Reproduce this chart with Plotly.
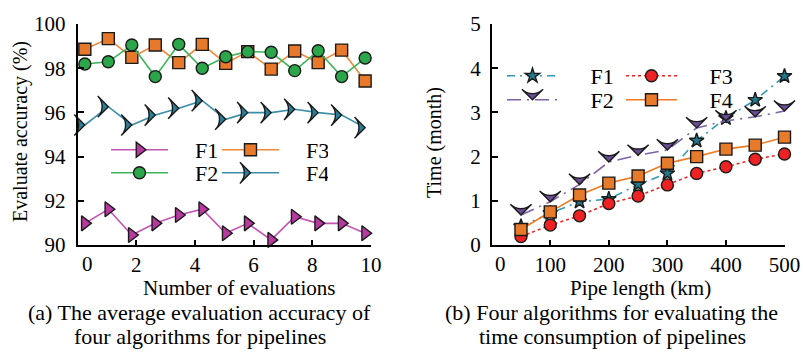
import plotly.graph_objects as go

# ---- Left panel data: accuracy vs number of evaluations ----
eval_x = [0.25, 1.05, 1.85, 2.65, 3.45, 4.25, 5.05, 5.8, 6.6, 7.4, 8.2, 9.0, 9.8]
acc_f1 = [90.98, 91.62, 90.45, 90.98, 91.36, 91.62, 90.53, 90.98, 90.23, 91.28, 90.98, 90.98, 90.53]
acc_f2 = [98.19, 98.29, 99.05, 97.62, 99.08, 98.00, 98.52, 98.75, 98.72, 97.89, 98.79, 97.62, 98.46]
acc_f3 = [98.86, 99.34, 98.49, 99.05, 98.25, 99.08, 98.22, 98.75, 97.96, 98.78, 98.25, 98.82, 97.42]
acc_f4 = [95.43, 96.26, 95.43, 95.88, 96.19, 96.53, 95.69, 95.99, 95.99, 96.14, 95.99, 95.88, 95.31]

# ---- Right panel data: time vs pipe length ----
pipe_len = [50, 100, 150, 200, 250, 300, 350, 400, 450, 500]
time_f1 = [0.42, 0.72, 0.98, 1.04, 1.37, 1.62, 2.36, 2.87, 3.28, 3.82]
time_f2 = [0.68, 0.98, 1.37, 1.88, 2.03, 2.15, 2.65, 2.81, 2.90, 3.03]
time_f3 = [0.19, 0.45, 0.66, 0.94, 1.11, 1.36, 1.62, 1.77, 1.94, 2.06]
time_f4 = [0.35, 0.75, 1.13, 1.40, 1.56, 1.85, 2.00, 2.17, 2.26, 2.44]

left_ticks = [2, 4, 6, 8, 10]
right_ticks = [100, 200, 300, 400, 500]

FONT = "Liberation Serif"
FS = 21       # tick labels
FSH = 22      # captions / legend
FST = 21      # x axis titles
FSV = 20      # vertical axis titles
W, H = 803, 352
EDGE = "#1a1a1a"
NB = "\u00a0"

fig = go.Figure()

def add(x, y, name, color, fill, symbol, size, dash, xa, ya, legend, angle=0, lw=1.6):
    fig.add_trace(go.Scatter(
        x=x, y=y, name=name, mode="lines+markers",
        line=dict(color=color, width=lw, dash=dash),
        marker=dict(symbol=symbol, size=size, color=fill, angle=angle,
                    line=dict(color=EDGE, width=1.4)),
        xaxis=xa, yaxis=ya, legend=legend, cliponaxis=False))

# left panel
pl = NB * 4
add(eval_x, acc_f1, pl + "F1", "#c254b4", "#b8399f", "triangle-right", 13, "solid", "x", "y", "legend")
add(eval_x, acc_f3, pl + "F3", "#f0883a", "#e8782a", "square", 12, "solid", "x", "y", "legend")
add(eval_x, acc_f2, pl + "F2", "#3cb55a", "#2ca64a", "circle", 12, "solid", "x", "y", "legend2")
add(eval_x, acc_f4, pl + "F4", "#3a8fa8", "#2a8098", "arrow-wide", 15, "solid", "x", "y", "legend2", angle=90)

# right panel
pr = NB * 5
add(pipe_len, time_f1, pr + "F1", "#3399b0", "#23788c", "star", 11, "8px,5px,2px,5px", "x2", "y2", "legend3")
add(pipe_len, time_f3, pr + "F3", "#ee2222", "#ee2222", "circle", 12, "dot", "x2", "y2", "legend3")
add(pipe_len, time_f2, pr + "F2", "#7d63a8", "#6a4f98", "arrow-wide", 15, "14px,6px,2px,6px", "x2", "y2", "legend4", angle=180)
add(pipe_len, time_f4, pr + "F4", "#f07a20", "#e87b2a", "square", 12, "solid", "x2", "y2", "legend4")

axis_common = dict(showline=True, linecolor="black", linewidth=1.5, showgrid=False,
                   zeroline=False, ticks="inside", tickcolor="black", tickwidth=1.5,
                   tickfont=dict(family=FONT, size=FS, color="black"))

def leg(xpx, ypx, ew, iw):
    return dict(orientation="h", x=xpx / W, y=1 - ypx / H, xanchor="left", yanchor="middle",
                entrywidth=ew, itemwidth=iw, bgcolor="rgba(0,0,0,0)",
                font=dict(family=FONT, size=FSH, color="black"))

ydom = [1 - 245 / H, 1 - 24 / H]
fig.update_layout(
    width=W, height=H, margin=dict(l=0, r=0, t=0, b=0, autoexpand=False),
    paper_bgcolor="white", plot_bgcolor="white",
    font=dict(family=FONT, size=FS, color="black"),
    xaxis=dict(domain=[77.5 / W, 371 / W], range=[0, 10], tickvals=left_ticks, ticklen=5,
               anchor="y", **axis_common),
    yaxis=dict(domain=ydom, range=[90, 100], dtick=2, ticklen=7, anchor="x",
               ticklabelstandoff=6, **axis_common),
    xaxis2=dict(domain=[491.7 / W, 784.5 / W], range=[0, 500], tickvals=right_ticks, ticklen=5,
                anchor="y2", **axis_common),
    yaxis2=dict(domain=ydom, range=[0, 5], dtick=1, ticklen=7, anchor="x2",
                ticklabelstandoff=5, **axis_common),
    legend=leg(106, 150, 39, 57),
    legend2=leg(106, 173, 39, 57),
    legend3=leg(502, 76, 53, 51),
    legend4=leg(502, 100, 53, 51),
    showlegend=True,
)

ann = []
def text(x, y, s, size, **kw):
    ann.append(dict(x=x, y=y, xref="paper", yref="paper", text=s, showarrow=False,
                    xanchor="center", yanchor="middle", borderpad=0,
                    font=dict(family=FONT, size=size, color="black"), **kw))

# "0" tick labels (offset from the axis corner as in the original)
ann.append(dict(x=0, y=90, xref="x", yref="y", text="0", showarrow=False, xshift=10, yshift=-19,
                xanchor="center", yanchor="middle", font=dict(family=FONT, size=FS, color="black")))
ann.append(dict(x=0, y=0, xref="x2", yref="y2", text="0", showarrow=False, xshift=9, yshift=-19,
                xanchor="center", yanchor="middle", font=dict(family=FONT, size=FS, color="black")))

text(20 / W, 1 - 132 / H, "Evaluate accuracy (%)", FSV, textangle=-90)
text(435 / W, 1 - 142 / H, "Time (month)", FSV, textangle=-90)
text(239 / W, 1 - 288 / H, "Number of evaluations", FST)
text(640 / W, 1 - 288 / H, "Pipe length (km)", FST)
text(199 / W, 1 - 312.5 / H, "(a) The average evaluation accuracy of", FSH)
text(200 / W, 1 - 336.5 / H, "four algorithms for pipelines", FSH)
text(611 / W, 1 - 312.5 / H, "(b) Four algorithms for evaluating the", FSH)
text(612 / W, 1 - 336.5 / H, "time consumption of pipelines", FSH)
fig.update_layout(annotations=ann)

fig.write_html("out.html", config={"displayModeBar": False},
               post_script="document.body.style.margin='0';document.body.style.padding='0';")
